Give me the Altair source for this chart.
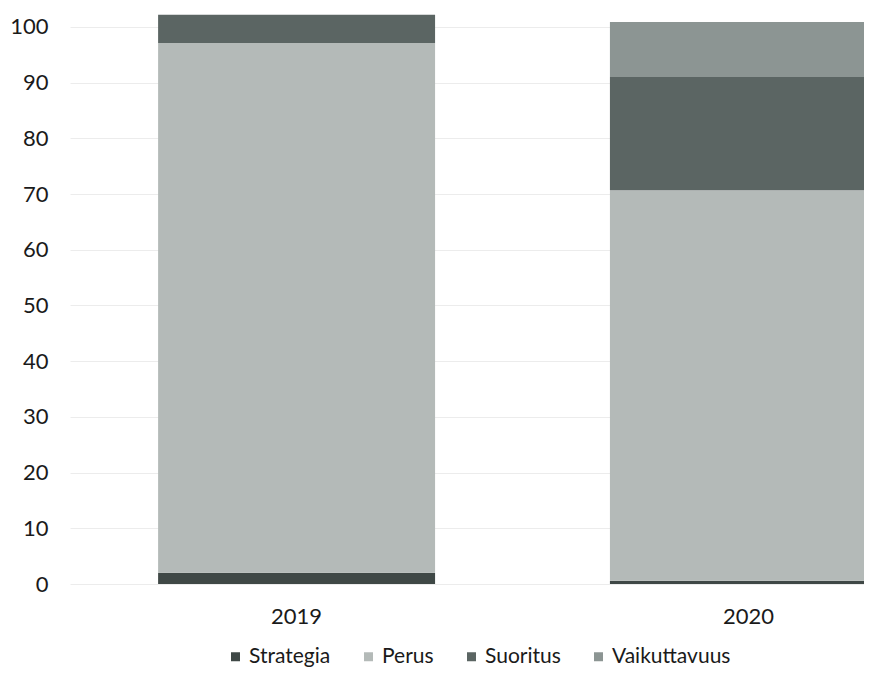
import altair as alt
import pandas as pd

years = ["2019", "2020"]
series = ["Strategia", "Perus", "Suoritus", "Vaikuttavuus"]
strategia = [2.0, 0.6]
perus = [95.1, 70.1]
suoritus = [5.1, 20.3]
vaikuttavuus = [0.0, 9.9]
colors = ["#3f4846", "#b4bab8", "#5b6563", "#8c9593"]
y_ticks = [0, 10, 20, 30, 40, 50, 60, 70, 80, 90, 100]

values = [strategia, perus, suoritus, vaikuttavuus]
rows = []
for si, (name, vals) in enumerate(zip(series, values)):
    for yi, yr in enumerate(years):
        rows.append({"year": yr, "series": name, "value": vals[yi], "idx": si})
df = pd.DataFrame(rows)

FONT = "Lato"

chart = alt.Chart(df).mark_bar().encode(
    x=alt.X("year:N", sort=years, title=None,
            scale=alt.Scale(range=[0, 905], paddingInner=0.387, paddingOuter=0.195),
            axis=alt.Axis(labelAngle=0, labelFontSize=22, labelFont=FONT, labelColor="#1a1a1a",
                          domain=False, ticks=False, labelPadding=22, grid=False)),
    y=alt.Y("value:Q", stack="zero", title=None,
            scale=alt.Scale(domain=[0, 103.4], nice=False),
            axis=alt.Axis(values=y_ticks, labelFontSize=22, labelFont=FONT, labelColor="#1a1a1a",
                          domain=False, ticks=False, labelPadding=22,
                          gridColor="#ececec", gridWidth=1)),
    color=alt.Color("series:N", scale=alt.Scale(domain=series, range=colors), title=None,
                    legend=alt.Legend(orient="none", legendX=155, legendY=638, direction="horizontal",
                                      symbolType="square", symbolSize=81, symbolStrokeWidth=0,
                                      labelFontSize=21, labelFont=FONT, labelColor="#1a1a1a",
                                      labelOffset=3, columnPadding=27)),
    order=alt.Order("idx:Q", sort="ascending"),
).properties(
    width=794, height=576,
    autosize=alt.AutoSizeParams(type="none"),
    padding={"left": 62, "top": 0, "right": 0, "bottom": 89},
).configure_view(stroke=None)

chart.save("out.html", embed_options={"renderer": "svg", "actions": False})
